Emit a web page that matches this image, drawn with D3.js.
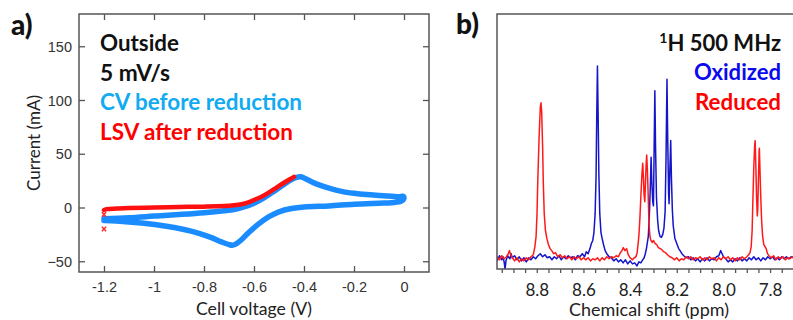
<!DOCTYPE html>
<html>
<head>
<meta charset="utf-8">
<script src="https://cdn.jsdelivr.net/npm/d3@7"></script>
<style>
  html, body { margin: 0; padding: 0; background: #fff; overflow: hidden; }
  svg { display: block; }
</style>
</head>
<body>
<svg id="chart" width="793" height="320"></svg>
<script>
// ---------- Panel a data (cell voltage V, current mA) ----------
const cvVoltage = [-1.20,-1.10,-1.00,-0.90,-0.80,-0.72,-0.68,-0.64,-0.60,-0.56,-0.52,-0.48,-0.45,-0.43,-0.415,-0.40,-0.37,-0.34,-0.30,-0.25,-0.20,-0.15,-0.10,-0.05,-0.02,-0.005,0.0,
  -0.01,-0.05,-0.10,-0.20,-0.30,-0.40,-0.45,-0.50,-0.54,-0.58,-0.62,-0.65,-0.67,-0.685,-0.70,-0.73,-0.77,-0.82,-0.88,-0.95,-1.05,-1.15,-1.20];
const cvCurrent = [-10.5,-9.5,-8,-6.5,-4.8,-3,-1.8,0.5,4,9,15,21.5,26,28,28.5,27.5,24,21,18,15,13.2,12,11.2,10.5,10,10.5,9.5,
  6,4.5,4,3,1.5,0.5,-1,-4,-8.5,-15,-23,-30,-33.5,-35,-34.5,-32,-28,-24,-20.5,-17.5,-14.5,-12.5,-12];
const lsvVoltage = [-1.20,-1.19,-1.15,-1.10,-1.00,-0.90,-0.80,-0.72,-0.68,-0.65,-0.62,-0.60,-0.57,-0.54,-0.51,-0.48,-0.455,-0.44];
const lsvCurrent = [-2.5,-1.5,-1,-0.5,0,0.5,0.8,1.3,2,3,5,7,10,14,18.5,23,26.5,28.5];
const lsvOutlierV = [-1.2,-1.2];
const lsvOutlierI = [-6.5,-20];
const aXTicks = [-1.2,-1,-0.8,-0.6,-0.4,-0.2,0];
const aXTickLabels = ["-1.2","-1","-0.8","-0.6","-0.4","-0.2","0"];
const aYTicks = [-50,0,50,100,150];
const aLegend = ["Outside","5 mV/s","CV before reduction","LSV after reduction"];

// ---------- Panel b data (chemical shift ppm, intensity a.u.) ----------
const oxidizedPpm = [8.970,8.960,8.950,8.945,8.940,8.936,8.932,8.925,8.915,8.910,8.905,8.895,8.885,8.875,8.865,8.855,8.845,8.835,8.825,8.815,8.805,8.795,8.785,8.775,8.765,8.755,8.745,8.735,8.725,8.715,8.705,8.695,8.685,8.675,8.665,8.655,8.645,8.635,8.625,8.615,8.605,8.595,8.588,8.580,8.572,8.566,8.560,8.555,8.550,8.546,8.543,8.540,8.537,8.534,8.530,8.525,8.520,8.514,8.507,8.500,8.490,8.480,8.470,8.460,8.450,8.440,8.430,8.420,8.410,8.400,8.390,8.380,8.371,8.362,8.354,8.346,8.340,8.336,8.330,8.326,8.322,8.318,8.314,8.310,8.307,8.303,8.300,8.298,8.294,8.291,8.287,8.282,8.278,8.272,8.266,8.260,8.255,8.250,8.246,8.242,8.239,8.235,8.233,8.230,8.226,8.223,8.219,8.215,8.208,8.200,8.192,8.186,8.178,8.170,8.160,8.150,8.140,8.130,8.120,8.110,8.100,8.090,8.080,8.070,8.060,8.050,8.040,8.030,8.020,8.012,8.006,8.000,7.990,7.980,7.970,7.960,7.950,7.940,7.930,7.920,7.910,7.900,7.890,7.880,7.870,7.860,7.850,7.840,7.830,7.820,7.810,7.800,7.790,7.780,7.770,7.760,7.750,7.740,7.730,7.720,7.710,7.700];
const oxidizedInt = [-1,1.5,-0.5,1,-1.5,-5,-1,1.5,0,2.5,0.5,1.5,-0.5,1,-1,0.5,-1.5,0.5,-0.5,1,0,1.5,2.5,1,2,0.5,1,-0.5,1,0,1.5,-0.5,1,0,1.5,0.5,1,-0.5,1.5,1,2.5,1,3.5,2.5,5,7.5,9,13,22,40,70,94.5,70,42,22,13,10,7,4,2.5,1,0.5,-1,0,-1.5,-0.5,-2,-0.5,-2.5,-1,-2.5,-2,-3.5,-1.5,-2,-0.5,0.5,2,5,8,11,20,33,49.8,38,28,26,45,82.4,55,30,19,14,11,10.5,12,15,23,50,88,60,32,27,42,58,40,24,16,10,7.5,5,4,2.5,1.5,0.5,1,-0.5,0.5,-1,0,-1.5,0,-1,0.5,-1,0,-0.5,1,1.5,4,2.5,1,0,-1.5,-0.5,-1.5,0,-1,0.5,-1,0,-1,0.5,-0.5,1,-0.5,0.5,-1,0.5,-0.5,1,0,1,-0.5,0.5,-0.5,1,0,1,0,1,0.5];
const reducedPpm = [8.970,8.960,8.950,8.940,8.930,8.922,8.917,8.912,8.905,8.895,8.885,8.875,8.865,8.855,8.845,8.835,8.825,8.815,8.808,8.803,8.799,8.796,8.790,8.785,8.782,8.779,8.775,8.772,8.768,8.763,8.757,8.750,8.743,8.736,8.728,8.720,8.710,8.700,8.690,8.680,8.670,8.660,8.650,8.640,8.630,8.620,8.610,8.600,8.590,8.580,8.570,8.560,8.550,8.540,8.530,8.520,8.510,8.500,8.490,8.480,8.470,8.460,8.450,8.442,8.435,8.429,8.422,8.415,8.408,8.400,8.390,8.382,8.375,8.370,8.366,8.362,8.358,8.353,8.349,8.346,8.343,8.340,8.337,8.334,8.331,8.329,8.326,8.323,8.319,8.315,8.311,8.305,8.300,8.293,8.286,8.279,8.271,8.264,8.257,8.248,8.240,8.230,8.220,8.210,8.200,8.190,8.180,8.170,8.160,8.150,8.140,8.130,8.120,8.110,8.100,8.090,8.080,8.070,8.060,8.050,8.040,8.030,8.020,8.010,8.000,7.990,7.980,7.970,7.960,7.950,7.940,7.930,7.920,7.910,7.900,7.892,7.886,7.881,7.877,7.874,7.870,7.866,7.864,7.861,7.858,7.855,7.853,7.850,7.847,7.846,7.843,7.840,7.836,7.832,7.827,7.822,7.817,7.811,7.805,7.795,7.785,7.775,7.765,7.755,7.745,7.735,7.725,7.715,7.705,7.700];
const reducedInt = [1,-0.5,1.5,0,1,2.5,4,2,0.5,-1,0.5,-1.5,0,-1,0.5,-0.5,1,2,6,11,22,37,60,74,76.5,72,55,37,22,14,10,7,5,4,2.5,3,1,2,0.5,1.5,0,1,-0.5,1,0,1,-0.5,0.5,-0.5,0.5,-1,0,-0.5,0.5,-1,0.5,-0.5,1,0,1,0.5,1.5,1,3,4,5.5,4,5,2,0.5,-0.5,0.5,1,3,7,12,20,33,42,46.8,40,31,28,38,47,50.9,44,33,17,11,9,8,9,7.5,7,5.5,5,4.5,3.5,3,2,1,0.5,-0.5,0.5,-1,0,-0.5,1,0,1,-0.5,0.5,0,1,-0.5,0.5,-0.5,1,0,0.5,-1,0.5,-0.5,1,0,1,-0.5,0.5,-1,0.5,-0.5,1,0,1,2,3,6,14,28,45,56,57.9,45,30,21,24,39,53,54.2,42,30,18,11,7,6,5,2.5,1.5,0.5,1.5,-0.5,1,0,1,-0.5,0.5,0,1,0.5];
const bMinorTicks = [8.95,8.90,8.85,8.80,8.75,8.70,8.65,8.60,8.55,8.50,8.45,8.40,8.35,8.30,8.25,8.20,8.15,8.10,8.05,8.00,7.95,7.90,7.85,7.80,7.75,7.70];
const bLabelTicks = [8.8,8.6,8.4,8.2,8.0,7.8];
const bLegend = ["H 500 MHz","Oxidized","Reduced"];

// ---------- drawing ----------
const svg = d3.select("#chart");
const labelFont = "Lato, 'Open Sans', sans-serif";
const tickFont = "'Liberation Sans', Arial, sans-serif";
const frameColor = "#555";

// Panel a
const A = {l: 79, r: 429, t: 14, b: 272};
const xA = d3.scaleLinear().domain([-1.3, 0.1]).range([A.l, A.r]);
const yA = d3.scaleLinear().domain([-60, 180]).range([A.b, A.t]);
const gA = svg.append("g");

gA.append("defs").append("clipPath").attr("id","clipA")
  .append("rect").attr("x",A.l).attr("y",A.t).attr("width",A.r-A.l).attr("height",A.b-A.t);

const lineA = d3.line().x(d => xA(d[0])).y(d => yA(d[1])).curve(d3.curveCatmullRom.alpha(0.5));
const cvPts = cvVoltage.map((v,i) => [v, cvCurrent[i]]);
const lsvPts = lsvVoltage.map((v,i) => [v, lsvCurrent[i]]);
const plotA = gA.append("g").attr("clip-path","url(#clipA)");
plotA.append("path").datum(cvPts).attr("d", lineA)
  .attr("fill","none").attr("stroke","#1a8cff").attr("stroke-width",5.5)
  .attr("stroke-linejoin","round").attr("stroke-linecap","round");
plotA.append("path").datum(lsvPts).attr("d", lineA)
  .attr("fill","none").attr("stroke","#ff1010").attr("stroke-width",4.5)
  .attr("stroke-linejoin","round").attr("stroke-linecap","round");
plotA.selectAll("path.xm").data(lsvOutlierV.map((v,i)=>[v, lsvOutlierI[i]])).enter()
  .append("path").attr("class","xm")
  .attr("d", d => { const x = xA(d[0]), y = yA(d[1]), s = 2.2;
    return `M${x-s},${y-s}L${x+s},${y+s}M${x-s},${y+s}L${x+s},${y-s}`; })
  .attr("stroke","#ff2020").attr("stroke-width",1.3).attr("fill","none");

// frame
gA.append("rect").attr("x",A.l).attr("y",A.t).attr("width",A.r-A.l).attr("height",A.b-A.t)
  .attr("fill","none").attr("stroke",frameColor).attr("stroke-width",1.5);

function styleAxis(g, font, size, color) {
  g.select(".domain").remove();
  g.selectAll(".tick line").attr("stroke", frameColor).attr("stroke-width",1.3);
  g.selectAll(".tick text").attr("font-family", font).attr("font-size", size).attr("fill", color);
}
const axA_b = gA.append("g").attr("transform",`translate(0,${A.b})`)
  .call(d3.axisBottom(xA).tickValues(aXTicks).tickFormat((d,i)=>aXTickLabels[i]).tickSize(-6));
styleAxis(axA_b, tickFont, "14.5px", "#333");
axA_b.selectAll(".tick text").attr("y", 20).attr("dy", 0);
const axA_t = gA.append("g").attr("transform",`translate(0,${A.t})`)
  .call(d3.axisTop(xA).tickValues(aXTicks).tickFormat("").tickSize(-6));
styleAxis(axA_t, tickFont, "14px", "#333");
const axA_l = gA.append("g").attr("transform",`translate(${A.l},0)`)
  .call(d3.axisLeft(yA).tickValues(aYTicks).tickSize(-6));
styleAxis(axA_l, tickFont, "14.5px", "#333");
axA_l.selectAll(".tick text").attr("x", -7).attr("dy", "0.36em");
const axA_r = gA.append("g").attr("transform",`translate(${A.r},0)`)
  .call(d3.axisRight(yA).tickValues(aYTicks).tickFormat("").tickSize(-6));
styleAxis(axA_r, tickFont, "14px", "#333");

gA.append("text").attr("x", (A.l+A.r)/2).attr("y", 315).attr("text-anchor","middle")
  .attr("font-family", labelFont).attr("font-size","17.5px").attr("fill","#222")
  .attr("textLength",116).attr("lengthAdjust","spacingAndGlyphs").text("Cell voltage (V)");
gA.append("text").attr("transform",`translate(39.5,${(A.t+A.b)/2}) rotate(-90)`).attr("text-anchor","middle")
  .attr("font-family", labelFont).attr("font-size","18px").attr("fill","#222")
  .attr("textLength",96).attr("lengthAdjust","spacingAndGlyphs").text("Current (mA)");

svg.append("text").attr("x",11).attr("y",35).attr("font-family",labelFont).attr("font-weight","900")
  .attr("font-size","28px").attr("fill","#111").text("a)");

const aLegColors = ["#111","#111","#12aaf0","#ff0000"];
const aLegY = [51, 80.5, 110, 139.5];
const aLegW = [79, 70, 202, 193];
aLegend.forEach((t,i) => {
  gA.append("text").attr("x",100).attr("y",aLegY[i]).attr("font-family",labelFont).attr("font-weight","bold")
    .attr("font-size","22px").attr("fill",aLegColors[i])
    .attr("textLength",aLegW[i]).attr("lengthAdjust","spacingAndGlyphs").text(t);
});

// Panel b
const B = {l: 497, r: 794, t: 14, b: 269};
const xB = d3.scaleLinear().domain([8.9705, 7.6976]).range([B.l, B.r]);
const yB = d3.scaleLinear().domain([-5, 120]).range([B.b, B.t]);
const gB = svg.append("g");
gB.append("defs").append("clipPath").attr("id","clipB")
  .append("rect").attr("x",B.l).attr("y",B.t).attr("width",B.r-B.l).attr("height",B.b-B.t);
const lineB = d3.line().x(d => xB(d[0])).y(d => yB(d[1]));
const plotB = gB.append("g").attr("clip-path","url(#clipB)");
plotB.append("path").datum(oxidizedPpm.map((p,i)=>[p, oxidizedInt[i]])).attr("d", lineB)
  .attr("fill","none").attr("stroke","#1414c8").attr("stroke-width",1.5).attr("stroke-linejoin","round");
plotB.append("path").datum(reducedPpm.map((p,i)=>[p, reducedInt[i]])).attr("d", lineB)
  .attr("fill","none").attr("stroke","#ff1a1a").attr("stroke-width",1.5).attr("stroke-linejoin","round");

gB.append("path").attr("d",`M${B.r},${B.t}H${B.l}V${B.b}H${B.r}`)
  .attr("fill","none").attr("stroke",frameColor).attr("stroke-width",1.5);
const axB_minor = gB.append("g").attr("transform",`translate(0,${B.b})`)
  .call(d3.axisBottom(xB).tickValues(bMinorTicks).tickFormat("").tickSize(4));
styleAxis(axB_minor, labelFont, "17px", "#222");
const axB = gB.append("g").attr("transform",`translate(0,${B.b})`)
  .call(d3.axisBottom(xB).tickValues(bLabelTicks).tickFormat(d3.format(".1f")).tickSize(0));
styleAxis(axB, labelFont, "17px", "#222");
axB.selectAll(".tick text").attr("y", 26.5).attr("dy", 0);

gB.append("text").attr("x", 649).attr("y", 316).attr("text-anchor","middle")
  .attr("font-family", labelFont).attr("font-size","17.5px").attr("fill","#222")
  .attr("textLength",160).attr("lengthAdjust","spacingAndGlyphs").text("Chemical shift (ppm)");

svg.append("text").attr("x",456).attr("y",34).attr("font-family",labelFont).attr("font-weight","900")
  .attr("font-size","28px").attr("fill","#111").text("b)");

const hTitle = gB.append("text").attr("x",781).attr("y",51).attr("text-anchor","end")
  .attr("font-family",labelFont).attr("font-weight","bold").attr("font-size","22px").attr("fill","#111");
hTitle.append("tspan").attr("font-size","14px").attr("dy",-8).text("1");
hTitle.append("tspan").attr("dy",8).text(bLegend[0]);
gB.append("text").attr("x",781).attr("y",80).attr("text-anchor","end")
  .attr("font-family",labelFont).attr("font-weight","bold").attr("font-size","22px").attr("fill","#0a0aee")
  .attr("textLength",87).attr("lengthAdjust","spacingAndGlyphs").text(bLegend[1]);
gB.append("text").attr("x",781).attr("y",109.5).attr("text-anchor","end")
  .attr("font-family",labelFont).attr("font-weight","bold").attr("font-size","22px").attr("fill","#ff0000")
  .attr("textLength",86).attr("lengthAdjust","spacingAndGlyphs").text(bLegend[2]);
</script>
</body>
</html>
